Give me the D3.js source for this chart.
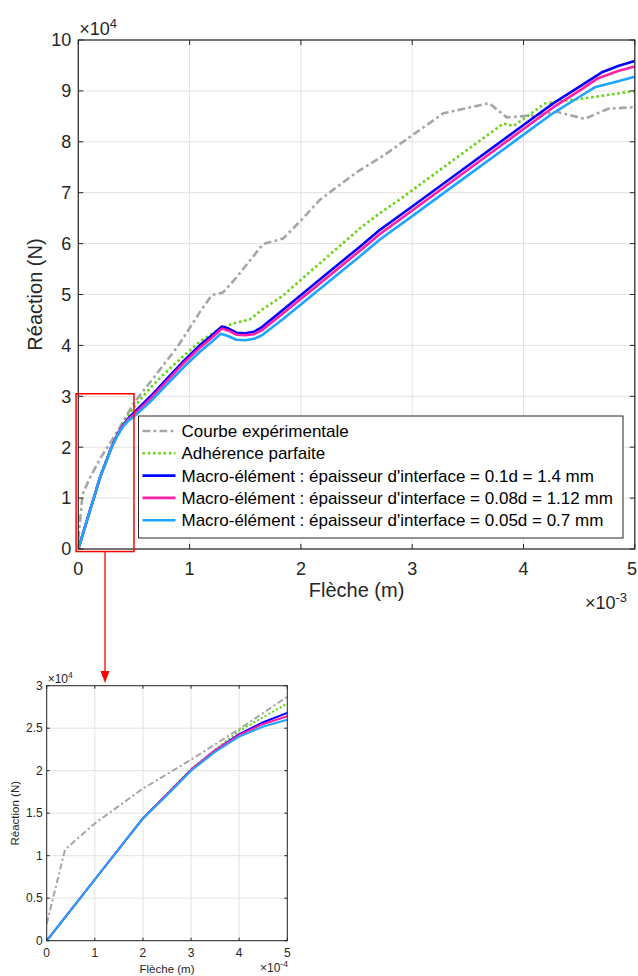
<!DOCTYPE html>
<html>
<head>
<meta charset="utf-8">
<script src="https://cdn.jsdelivr.net/npm/d3@7"></script>
<style>
html,body{margin:0;padding:0;background:#fff;}
svg{display:block;font-family:"Liberation Sans",Arial,Helvetica,sans-serif;}
</style>
</head>
<body>
<svg id="chart" width="638" height="976"></svg>
<script>
// x in units of 1e-3 m, y in units of 1e4 N
const expX = [0,0.038,0.1,0.2,0.3,0.4,0.5,0.7,0.9,1.1,1.2,1.30,1.40,1.66,1.84,1.99,2.17,2.5,2.75,3.28,3.69,3.85,4.09,4.30,4.55,4.76,5.0];
const expY = [0.2,1.07,1.38,1.79,2.13,2.49,2.87,3.43,4.0,4.68,4.99,5.04,5.28,5.99,6.10,6.43,6.86,7.40,7.74,8.56,8.76,8.48,8.52,8.59,8.45,8.65,8.68];

const adhX = [0,0.1,0.2,0.3,0.4,0.5,0.644,0.8,0.95,1.09,1.25,1.39,1.54,1.65,1.84,1.98,2.53,2.71,2.89,3.5,3.82,3.91,4.0,4.19,4.3,4.57,5.0];
const adhY = [0,0.72,1.44,2.02,2.47,2.79,3.16,3.50,3.80,4.07,4.30,4.43,4.51,4.70,4.98,5.25,6.30,6.60,6.87,7.85,8.36,8.31,8.45,8.75,8.79,8.86,9.00];

const me1X = [0,0.05,0.1,0.15,0.2,0.25,0.3,0.35,0.4,0.45,0.5,0.65,0.8,0.95,1.1,1.2,1.29,1.35,1.42,1.5,1.58,1.65,1.84,2.2,2.53,2.71,3.0,3.5,4.0,4.27,4.5,4.7,4.85,5.0];
const me1Y = [0,0.36,0.72,1.08,1.44,1.72,2.01,2.24,2.43,2.57,2.68,3.0,3.35,3.70,4.02,4.20,4.37,4.33,4.25,4.24,4.27,4.36,4.70,5.35,5.94,6.27,6.73,7.53,8.33,8.76,9.08,9.36,9.49,9.59];

const me2X = [0,0.05,0.1,0.15,0.2,0.25,0.3,0.35,0.4,0.45,0.5,0.65,0.8,0.95,1.1,1.2,1.29,1.35,1.42,1.5,1.58,1.65,1.84,2.2,2.53,2.71,3.0,3.5,4.0,4.27,4.5,4.67,4.85,5.0];
const me2Y = [0,0.36,0.72,1.08,1.44,1.72,2.01,2.24,2.42,2.55,2.64,2.96,3.31,3.66,3.97,4.15,4.33,4.29,4.21,4.20,4.22,4.30,4.63,5.27,5.86,6.19,6.65,7.45,8.25,8.68,9.00,9.25,9.39,9.48];

const me3X = [0,0.05,0.1,0.15,0.2,0.25,0.3,0.35,0.4,0.45,0.5,0.65,0.8,0.95,1.1,1.2,1.28,1.35,1.42,1.5,1.58,1.65,1.84,2.2,2.53,2.71,3.0,3.5,4.0,4.27,4.5,4.64,4.85,5.0];
const me3Y = [0,0.36,0.72,1.08,1.44,1.71,2.00,2.22,2.40,2.52,2.60,2.90,3.24,3.58,3.89,4.07,4.23,4.18,4.11,4.10,4.13,4.20,4.52,5.16,5.75,6.08,6.54,7.34,8.14,8.57,8.88,9.07,9.19,9.28];

const legendLabels = [
  "Courbe expérimentale",
  "Adhérence parfaite",
  "Macro-élément : épaisseur d'interface = 0.1d = 1.4 mm",
  "Macro-élément : épaisseur d'interface = 0.08d = 1.12 mm",
  "Macro-élément : épaisseur d'interface = 0.05d = 0.7 mm"
];
const mainXTicks = [0,1,2,3,4,5];
const mainYTicks = [0,1,2,3,4,5,6,7,8,9,10];
const insetXTicks = [0,0.1,0.2,0.3,0.4,0.5];
const insetXTickLabels = ["0","1","2","3","4","5"];
const insetYTicks = [0,0.5,1,1.5,2,2.5,3];
const insetYTickLabels = ["0","0.5","1","1.5","2","2.5","3"];

const seriesStyle = [
  {color:"#a6a6a6", dash:"7,3,2.5,3"},
  {color:"#5fd40a", dash:"2.2,2.6"},
  {color:"#0000ff", dash:null},
  {color:"#ff1fa8", dash:null},
  {color:"#1ea5ff", dash:null}
];
const seriesData = [[expX,expY],[adhX,adhY],[me1X,me1Y],[me2X,me2Y],[me3X,me3Y]];

const svg = d3.select("#chart");
const axisColor = "#262626";
const gridColor = "#e2e2e2";

function drawPlot(cfg){
  const g = svg.append("g");
  const x = d3.scaleLinear().domain(cfg.xDomain).range([cfg.left, cfg.right]);
  const y = d3.scaleLinear().domain(cfg.yDomain).range([cfg.bottom, cfg.top]);
  g.selectAll(".gx").data(cfg.xTicks).enter().append("line")
    .attr("x1",d=>x(d)).attr("x2",d=>x(d)).attr("y1",cfg.top).attr("y2",cfg.bottom)
    .attr("stroke",gridColor).attr("stroke-width",1);
  g.selectAll(".gy").data(cfg.yTicks).enter().append("line")
    .attr("y1",d=>y(d)).attr("y2",d=>y(d)).attr("x1",cfg.left).attr("x2",cfg.right)
    .attr("stroke",gridColor).attr("stroke-width",1);
  const cid = "clip"+cfg.id;
  svg.append("defs").append("clipPath").attr("id",cid).append("rect")
    .attr("x",cfg.left).attr("y",cfg.top).attr("width",cfg.right-cfg.left).attr("height",cfg.bottom-cfg.top);
  const lines = g.append("g").attr("clip-path","url(#"+cid+")");
  const lineGen = d3.line().x(d=>x(d[0])).y(d=>y(d[1]));
  seriesData.forEach((s,i)=>{
    const pts = s[0].map((v,j)=>[v,s[1][j]]);
    const st = seriesStyle[i];
    lines.append("path").attr("d",lineGen(pts)).attr("fill","none")
      .attr("stroke",st.color).attr("stroke-width",cfg.lw)
      .attr("stroke-linejoin","round")
      .attr("stroke-dasharray",st.dash ? st.dash.split(",").map(v=>+v*cfg.dashScale).join(",") : null);
  });
  g.append("rect").attr("x",cfg.left).attr("y",cfg.top).attr("width",cfg.right-cfg.left).attr("height",cfg.bottom-cfg.top)
    .attr("fill","none").attr("stroke",axisColor).attr("stroke-width",cfg.boxW);
  const tl = cfg.tickLen;
  cfg.xTicks.forEach(t=>{
    g.append("line").attr("x1",x(t)).attr("x2",x(t)).attr("y1",cfg.bottom).attr("y2",cfg.bottom-tl).attr("stroke",axisColor);
    g.append("line").attr("x1",x(t)).attr("x2",x(t)).attr("y1",cfg.top).attr("y2",cfg.top+tl).attr("stroke",axisColor);
  });
  cfg.yTicks.forEach(t=>{
    g.append("line").attr("y1",y(t)).attr("y2",y(t)).attr("x1",cfg.left).attr("x2",cfg.left+tl).attr("stroke",axisColor);
    g.append("line").attr("y1",y(t)).attr("y2",y(t)).attr("x1",cfg.right).attr("x2",cfg.right-tl).attr("stroke",axisColor);
  });
  g.selectAll(".xl").data(cfg.xTicks).enter().append("text")
    .attr("x",d=>Math.min(x(d), cfg.maxLabelX)).attr("y",cfg.bottom+cfg.xLabOff).attr("text-anchor","middle")
    .attr("font-size",cfg.tickFont).attr("fill",axisColor)
    .text((d,i)=>cfg.xTickLabels[i]);
  g.selectAll(".yl").data(cfg.yTicks).enter().append("text")
    .attr("x",cfg.left-cfg.yLabOff).attr("y",d=>y(d)).attr("dy","0.35em").attr("text-anchor","end")
    .attr("font-size",cfg.tickFont).attr("fill",axisColor)
    .text((d,i)=>cfg.yTickLabels[i]);
  g.append("text").attr("x",(cfg.left+cfg.right)/2).attr("y",cfg.xTitleY).attr("text-anchor","middle")
    .attr("font-size",cfg.titleFont).attr("fill",axisColor).text("Flèche (m)");
  g.append("text").attr("transform","translate("+cfg.yTitleX+","+((cfg.top+cfg.bottom)/2)+") rotate(-90)")
    .attr("text-anchor","middle").attr("font-size",cfg.titleFont).attr("fill",axisColor).text("Réaction (N)");
  const e1 = g.append("text").attr("x",cfg.left+1).attr("y",cfg.top-cfg.expOffTop).attr("font-size",cfg.tickFont).attr("fill",axisColor);
  e1.append("tspan").text("×10");
  e1.append("tspan").attr("dy",-cfg.tickFont*0.4).attr("font-size",cfg.tickFont*0.72).text(cfg.yExp);
  const e2 = g.append("text").attr("x",cfg.xExpX).attr("y",cfg.xExpY).attr("font-size",cfg.tickFont).attr("fill",axisColor);
  e2.append("tspan").text("×10");
  e2.append("tspan").attr("dy",-cfg.tickFont*0.4).attr("font-size",cfg.tickFont*0.72).text(cfg.xExp);
  return {x,y};
}

const main = drawPlot({
  id:"main", left:78.3, right:634.8, top:40, bottom:549,
  xDomain:[0,5], yDomain:[0,10],
  xTicks:mainXTicks, yTicks:mainYTicks,
  xTickLabels:mainXTicks.map(String), yTickLabels:mainYTicks.map(String),
  lw:2.6, dashScale:1.1, boxW:1.2, tickLen:5, tickFont:18, maxLabelX:632,
  xLabOff:26, yLabOff:7, titleFont:20, xTitleY:597, yTitleX:42,
  expOffTop:5, yExp:"4", xExp:"-3", xExpX:585, xExpY:609
});

const lg = svg.append("g");
const lgX = 138.5, lgY = 416, lgW = 484.5, lgH = 122;
lg.append("rect").attr("x",lgX).attr("y",lgY).attr("width",lgW).attr("height",lgH)
  .attr("fill","#fff").attr("stroke",axisColor).attr("stroke-width",1);
legendLabels.forEach((lab,i)=>{
  const cy = lgY + 15 + i*22.3;
  const st = seriesStyle[i];
  lg.append("line").attr("x1",lgX+4).attr("x2",lgX+37).attr("y1",cy).attr("y2",cy)
    .attr("stroke",st.color).attr("stroke-width",2.6)
    .attr("stroke-dasharray",st.dash ? st.dash.split(",").map(v=>+v*1.1).join(",") : null);
  lg.append("text").attr("x",lgX+43).attr("y",cy).attr("dy","0.35em").attr("font-size",17).attr("fill","#000").text(lab);
});

const rx0 = main.x(-0.02), rx1 = main.x(0.5), ry0 = main.y(3.05), ry1 = main.y(-0.05);
svg.append("rect").attr("x",rx0).attr("y",ry0).attr("width",rx1-rx0).attr("height",ry1-ry0)
  .attr("fill","none").attr("stroke","#ff0000").attr("stroke-width",1.5);
const ax = main.x(0.24);
svg.append("line").attr("x1",ax).attr("x2",ax).attr("y1",ry1).attr("y2",672)
  .attr("stroke","#ff2020").attr("stroke-width",1.5);
svg.append("path").attr("d",d3.line()([[ax-4.5,671],[ax+4.5,671],[ax,683]])+"Z").attr("fill","#ff0000");

drawPlot({
  id:"inset", left:46.7, right:287.3, top:685.7, bottom:940.7,
  xDomain:[0,0.5], yDomain:[0,3],
  xTicks:insetXTicks, yTicks:insetYTicks,
  xTickLabels:insetXTickLabels, yTickLabels:insetYTickLabels,
  lw:2.0, dashScale:0.9, boxW:1, tickLen:3, tickFont:12, maxLabelX:1000,
  xLabOff:16, yLabOff:4, titleFont:11.5, xTitleY:973, yTitleX:19,
  expOffTop:3, yExp:"4", xExp:"-4", xExpX:260, xExpY:972
});
</script>
</body>
</html>
